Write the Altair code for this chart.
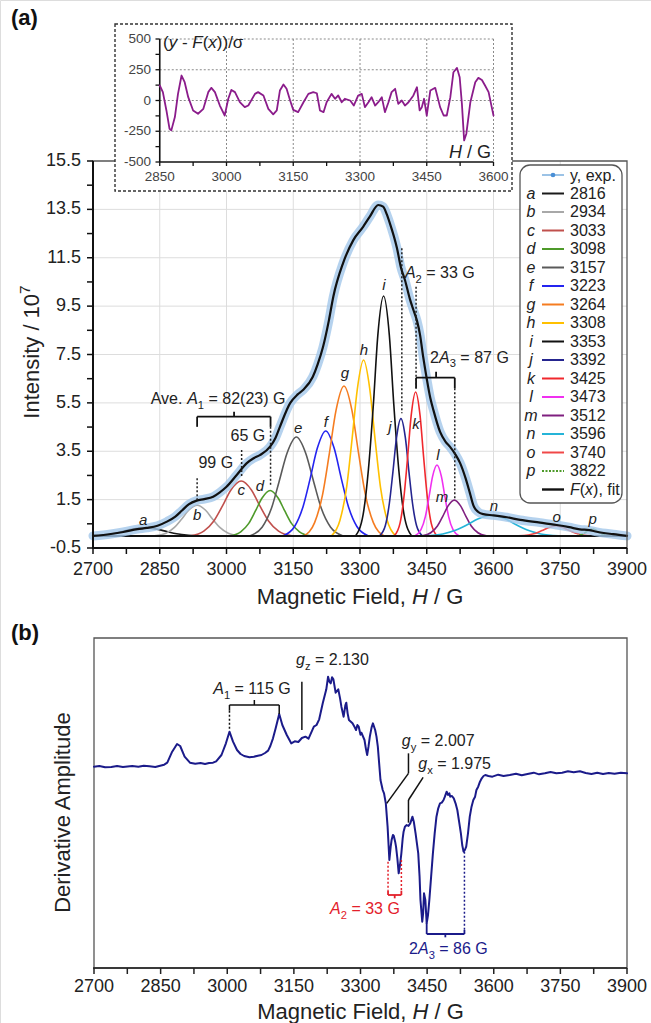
import altair as alt
import pandas as pd

FONT = "Liberation Sans"

# ---------------- data ----------------
# (a) experimental spectrum / fit envelope F(x)
fit_H = [2700, 2740, 2768, 2800, 2821, 2845, 2866, 2885, 2900, 2915, 2933, 2950, 2970, 2985,
         3000, 3023, 3045, 3060, 3075, 3098, 3110, 3120, 3143, 3160, 3172, 3194, 3205, 3217,
         3230, 3240, 3262, 3285, 3307, 3322, 3341, 3352, 3360, 3367, 3383, 3392, 3401, 3412,
         3420, 3428, 3435, 3442, 3450, 3458, 3465, 3480, 3492, 3502, 3515, 3525, 3537, 3547,
         3555, 3565, 3577, 3600, 3630, 3660, 3705, 3742, 3770, 3794, 3815, 3832, 3869, 3900]
fit_v = [0.0, 0.08, 0.16, 0.28, 0.33, 0.42, 0.59, 0.8, 1.05, 1.3, 1.46, 1.52, 1.62, 1.8,
         2.03, 2.52, 3.0, 3.2, 3.34, 3.69, 4.05, 4.51, 5.49, 5.85, 6.03, 6.58, 7.1, 7.82,
         8.9, 9.89, 11.28, 12.23, 12.78, 13.2, 13.68, 13.61, 13.3, 12.93, 11.9, 11.1, 10.58, 9.8,
         9.34, 8.9, 8.3, 7.4, 6.5, 5.7, 5.2, 4.3, 3.9, 3.69, 3.35, 3.01, 2.4, 1.77,
         1.25, 1.0, 0.9, 0.85, 0.77, 0.66, 0.55, 0.45, 0.36, 0.27, 0.24, 0.17, 0.07, 0.0]

# (a) fitted components
a_H = [2700, 2717, 2744, 2766, 2789, 2816, 2843, 2866, 2888, 2915, 2951]
a_v = [0.01, 0.03, 0.09, 0.18, 0.28, 0.33, 0.28, 0.18, 0.09, 0.03, 0.0]
b_H = [2838, 2864, 2883, 2899, 2915, 2934, 2953, 2969, 2985, 3004, 3030]
b_v = [0.0, 0.11, 0.35, 0.69, 1.06, 1.27, 1.06, 0.69, 0.35, 0.11, 0.0]
c_H = [2919, 2949, 2972, 2991, 3010, 3033, 3056, 3075, 3094, 3117, 3147]
c_v = [0.0, 0.20, 0.63, 1.24, 1.90, 2.27, 1.90, 1.24, 0.63, 0.20, 0.0]
d_H = [3008, 3032, 3050, 3065, 3080, 3098, 3116, 3131, 3146, 3164, 3188]
d_v = [0.0, 0.17, 0.52, 1.03, 1.57, 1.88, 1.57, 1.03, 0.52, 0.17, 0.0]
e_H = [3052, 3080, 3101, 3118, 3136, 3157, 3178, 3196, 3213, 3234, 3262]
e_v = [0.0, 0.36, 1.14, 2.23, 3.42, 4.09, 3.42, 2.23, 1.14, 0.36, 0.0]
f_H = [3127, 3153, 3172, 3188, 3204, 3223, 3242, 3258, 3274, 3293, 3319]
f_v = [0.0, 0.39, 1.21, 2.37, 3.62, 4.34, 3.62, 2.37, 1.21, 0.39, 0.0]
g_H = [3174, 3198, 3216, 3231, 3246, 3264, 3282, 3297, 3312, 3330, 3354]
g_v = [0.0, 0.55, 1.72, 3.39, 5.18, 6.20, 5.18, 3.39, 1.72, 0.55, 0.0]
h_H = [3236, 3255, 3270, 3282, 3294, 3308, 3322, 3334, 3346, 3361, 3380]
h_v = [0.0, 0.65, 2.02, 3.97, 6.07, 7.27, 6.07, 3.97, 2.02, 0.65, 0.0]
i_H = [3290, 3307, 3319, 3330, 3340, 3353, 3366, 3376, 3387, 3399, 3416]
i_v = [0.0, 0.88, 2.76, 5.42, 8.28, 9.92, 8.28, 5.42, 2.76, 0.88, 0.0]
j_H = [3344, 3357, 3366, 3374, 3382, 3392, 3402, 3410, 3418, 3427, 3440]
j_v = [0.0, 0.43, 1.35, 2.65, 4.05, 4.85, 4.05, 2.65, 1.35, 0.43, 0.0]
k_H = [3377, 3390, 3399, 3407, 3415, 3425, 3435, 3443, 3451, 3460, 3473]
k_v = [0.0, 0.53, 1.65, 3.25, 4.97, 5.95, 4.97, 3.25, 1.65, 0.53, 0.0]
l_H = [3423, 3437, 3447, 3455, 3463, 3473, 3483, 3491, 3499, 3509, 3523]
l_v = [0.0, 0.26, 0.81, 1.60, 2.45, 2.93, 2.45, 1.60, 0.81, 0.26, 0.0]
m_H = [3440, 3459, 3474, 3486, 3498, 3512, 3526, 3538, 3550, 3565, 3584]
m_v = [0.0, 0.13, 0.41, 0.81, 1.24, 1.48, 1.24, 0.81, 0.41, 0.13, 0.0]
n_H = [3446, 3486, 3516, 3541, 3566, 3596, 3626, 3651, 3676, 3706, 3746]
n_v = [0.0, 0.08, 0.24, 0.46, 0.71, 0.85, 0.71, 0.46, 0.24, 0.08, 0.0]
o_H = [3656, 3678, 3695, 3709, 3723, 3740, 3757, 3771, 3785, 3802, 3824]
o_v = [0.0, 0.04, 0.11, 0.22, 0.34, 0.41, 0.34, 0.22, 0.11, 0.04, 0.0]
p_H = [3783, 3793, 3801, 3808, 3814, 3822, 3830, 3836, 3843, 3851, 3861]
p_v = [0.0, 0.03, 0.08, 0.16, 0.24, 0.29, 0.24, 0.16, 0.08, 0.03, 0.0]

comp_letters = list("abcdefghijklmnop")
comp_centers = ["2816", "2934", "3033", "3098", "3157", "3223", "3264", "3308",
                "3353", "3392", "3425", "3473", "3512", "3596", "3740", "3822"]
comp_colors = ["#1a1a1a", "#a8a8a8", "#c0504d", "#4e9a2a", "#5a5a5a", "#2424f0",
               "#f57c20", "#ffc000", "#111111", "#25258f", "#f0282d", "#f030f0",
               "#7f1f7f", "#25b4d8", "#f04848", "#4e9a2a"]
comp_H = [a_H, b_H, c_H, d_H, e_H, f_H, g_H, h_H, i_H, j_H, k_H, l_H, m_H, n_H, o_H, p_H]
comp_v = [a_v, b_v, c_v, d_v, e_v, f_v, g_v, h_v, i_v, j_v, k_v, l_v, m_v, n_v, o_v, p_v]

# inset residual (y - F(x))/sigma
res_H = [2850, 2857, 2865, 2872, 2876, 2884, 2891, 2899, 2906, 2914, 2925, 2936, 2948, 2959,
         2966, 2974, 2985, 2996, 3004, 3011, 3019, 3030, 3041, 3049, 3064, 3071, 3083, 3094,
         3105, 3113, 3120, 3128, 3135, 3143, 3150, 3161, 3173, 3184, 3195, 3203, 3210, 3218,
         3225, 3236, 3244, 3251, 3259, 3266, 3278, 3286, 3296, 3304, 3311, 3319, 3326, 3334,
         3341, 3349, 3356, 3364, 3371, 3379, 3386, 3394, 3401, 3409, 3420, 3428, 3434, 3439,
         3444, 3450, 3458, 3469, 3480, 3488, 3495, 3503, 3510, 3518, 3524, 3529, 3534, 3539,
         3548, 3559, 3566, 3574, 3581, 3589, 3596, 3600]
res_v = [122, 68, -81, -230, -243, -135, 54, 203, 149, 27, -81, -108, -68, 68,
         103, 68, -41, -122, 14, 86, 68, -14, -54, -41, 54, 68, 41, -68,
         -113, -81, 81, 130, 95, 0, -76, -95, -14, 54, 68, 59, -81, -95,
         -14, 54, 14, 41, -14, 14, 0, -41, 41, 54, -54, -14, 27, -41,
         -14, 27, -95, -14, 68, 95, -27, 0, -41, -14, 41, 108, -81, -54,
         14, -122, 81, 103, -54, -122, -122, 27, 230, 265, 189, -27, -324, -270,
         -14, 149, 184, 167, 122, 68, -54, -122]

# (b) derivative spectrum (arbitrary units)
spec_H = [2700, 2712, 2725, 2739, 2752, 2765, 2786, 2800, 2812, 2825, 2838, 2849, 2858, 2865,
          2876, 2887, 2894, 2904, 2916, 2928, 2940, 2950, 2959, 2968, 2975, 2987, 2997, 3005,
          3013, 3022, 3030, 3038, 3050, 3060, 3069, 3077, 3085, 3092, 3097, 3103, 3109, 3117,
          3124, 3134, 3144, 3152, 3160, 3168, 3176, 3183, 3190, 3195, 3201, 3207, 3215, 3223,
          3227, 3230, 3233, 3236, 3239, 3244, 3250, 3254, 3257, 3262, 3266, 3268, 3271, 3274,
          3282, 3287, 3290, 3293, 3296, 3300, 3302, 3309, 3312, 3315, 3318, 3321, 3325, 3328,
          3333, 3336, 3339, 3342, 3345, 3350, 3353, 3357, 3361, 3365, 3368, 3370, 3373, 3375,
          3378, 3380, 3383, 3386, 3389, 3392, 3395, 3397, 3400, 3404, 3408, 3412, 3417, 3420,
          3424, 3427, 3430, 3433, 3435, 3439, 3441, 3443, 3446, 3449, 3452, 3455, 3459, 3463,
          3467, 3471, 3475, 3479, 3483, 3487, 3490, 3494, 3497, 3500, 3502, 3506, 3510, 3514,
          3518, 3522, 3526, 3529, 3532, 3535, 3538, 3542, 3546, 3550, 3554, 3558, 3561, 3565,
          3569, 3573, 3577, 3581, 3588, 3597, 3610, 3622, 3636, 3650, 3663, 3676, 3690, 3702,
          3715, 3728, 3741, 3754, 3767, 3780, 3794, 3807, 3820, 3833, 3846, 3859, 3872, 3886, 3900]
spec_v = [0, 2, -2, -1, 2, -1, 2, 0, 3, 1, -1, 3, 6, 12,
          45, 68, 62, 30, 12, 9, 11, 8, 11, 12, 16, 35, 70, 105,
          75, 50, 38, 32, 28, 30, 33, 35, 41, 48, 62, 85, 115, 158,
          125, 95, 70, 76, 74, 86, 90, 84, 105, 120, 125, 142, 190, 232,
          270, 255, 250, 268, 262, 222, 232, 205, 180, 150, 185, 192, 160, 140,
          130, 118, 110, 125, 120, 96, 102, 80, 55, 35, 60, 90, 118, 130,
          110, 90, 60, 10, -40, -70, -80, -110, -180, -280, -240, -220, -205, -208,
          -225, -240, -275, -320, -295, -260, -215, -195, -180, -175, -178, -170, -150, -165,
          -200, -230, -260, -330, -400, -465, -440, -380, -400, -470, -445, -400, -330, -260,
          -200, -150, -125, -110, -108, -100, -90, -75, -85, -80, -90, -88, -95, -110,
          -130, -165, -200, -235, -255, -250, -240, -200, -150, -120, -100, -90, -70, -60,
          -45, -35, -28, -25, -28, -30, -24, -28, -25, -21, -26, -22, -18, -23,
          -20, -16, -20, -18, -14, -17, -14, -19, -22, -18, -22, -19, -21, -18, -20]

# axis ticks / labels
main_xticks = [2700, 2850, 3000, 3150, 3300, 3450, 3600, 3750, 3900]
main_xminor = [2775, 2925, 3075, 3225, 3375, 3525, 3675, 3825]
main_yticks = [-0.5, 1.5, 3.5, 5.5, 7.5, 9.5, 11.5, 13.5, 15.5]
main_yminor = [0.5, 2.5, 4.5, 6.5, 8.5, 10.5, 12.5, 14.5]
inset_xticks = [2850, 3000, 3150, 3300, 3450, 3600]
inset_xminor = [2925, 3075, 3225, 3375, 3525]
inset_yticks = [-500, -250, 0, 250, 500]
inset_yminor = [-375, -125, 125, 375]

# ---------------- helpers ----------------
CW = {' ': 278, '(': 333, ')': 333, ',': 278, '-': 333, '.': 278, '/': 278, '=': 584, 'σ': 580,
      'A': 667, 'D': 722, 'F': 611, 'G': 778, 'H': 722, 'I': 278, 'M': 833,
      'a': 556, 'b': 556, 'c': 500, 'd': 556, 'e': 556, 'f': 278, 'g': 556, 'h': 556, 'i': 222,
      'j': 222, 'k': 500, 'l': 222, 'm': 833, 'n': 556, 'o': 556, 'p': 556, 'r': 333, 's': 500,
      't': 278, 'u': 556, 'v': 500, 'x': 500, 'y': 500, 'z': 500}

TITLE = 22
TICK = 18
ANN = 16
LEG = 16


def tw(s, size):
    return sum(CW.get(ch, 556) for ch in s) * size / 1000.0


def blank():
    return alt.Chart(alt.Data(values=[{}]))


def rich(pieces, x, y, size, color="#222", align="center", xs=None, ys=None, angle=0, weight="normal"):
    if xs is not None:
        base = alt.Chart(pd.DataFrame({"x": [x], "y": [y]}))
        xe = alt.X("x:Q", scale=xs, axis=None)
        ye = alt.Y("y:Q", scale=ys, axis=None)
    else:
        base = blank()
        xe = alt.value(x)
        ye = alt.value(y)
    sizes = [size * 0.7 if k in ("sub", "sup") else size for _, _, k in pieces]
    widths = [tw(t, fs) for (t, _, _), fs in zip(pieces, sizes)]
    total = sum(widths)
    acc = {"center": -total / 2.0, "left": 0.0, "right": -total}[align]
    out = []
    for (t, it, kind), fs, w in zip(pieces, sizes, widths):
        lead = len(t) - len(t.lstrip(" "))
        txt = t.strip(" ")
        shift = 0.3 * size if kind == "sub" else (-0.4 * size if kind == "sup" else 0.0)
        if txt:
            out.append(base.mark_text(
                text=txt, align="left", baseline="alphabetic",
                dx=acc + tw(" " * lead, fs), dy=0.36 * size + shift,
                fontSize=fs, fontStyle="italic" if it else "normal", fontWeight=weight,
                color=color, font=FONT, angle=angle).encode(x=xe, y=ye))
        acc += w
    return out


def segs(rows, xs, ys, color, width=1.8, dash=None):
    df = pd.DataFrame(rows, columns=["x", "y", "x2", "y2"])
    kw = dict(color=color, strokeWidth=width)
    if dash:
        kw["strokeDash"] = dash
    return alt.Chart(df).mark_rule(**kw).encode(
        x=alt.X("x:Q", scale=xs, axis=None), y=alt.Y("y:Q", scale=ys, axis=None),
        x2="x2:Q", y2="y2:Q")


def prule(x, y, x2, y2, color, width, dash=None):
    kw = dict(color=color, strokeWidth=width)
    if dash:
        kw["strokeDash"] = dash
    return blank().mark_rule(**kw).encode(
        x=alt.value(x), y=alt.value(y), x2=alt.value(x2), y2=alt.value(y2))


def line(H, v, xs, ys, color, width, interp="linear", opacity=1.0, dash=None):
    df = pd.DataFrame({"H": H, "v": v})
    kw = dict(color=color, strokeWidth=width, interpolate=interp, opacity=opacity,
              strokeCap="round", strokeJoin="round")
    if dash:
        kw["strokeDash"] = dash
    return alt.Chart(df).mark_line(**kw).encode(
        x=alt.X("H:Q", scale=xs, axis=None), y=alt.Y("v:Q", scale=ys, axis=None))


def vrules(vals, xs, y0, y1, color, width, dash=None):
    kw = dict(color=color, strokeWidth=width)
    if dash:
        kw["strokeDash"] = dash
    return alt.Chart(pd.DataFrame({"t": vals})).mark_rule(**kw).encode(
        x=alt.X("t:Q", scale=xs, axis=None), y=alt.value(y0), y2=alt.value(y1))


def hrules(vals, ys, x0, x1, color, width, dash=None):
    kw = dict(color=color, strokeWidth=width)
    if dash:
        kw["strokeDash"] = dash
    return alt.Chart(pd.DataFrame({"t": vals})).mark_rule(**kw).encode(
        y=alt.Y("t:Q", scale=ys, axis=None), x=alt.value(x0), x2=alt.value(x1))


def fmt(v):
    return ("%g" % v)


def xlabels(vals, xs, ypx, size, color="#222"):
    df = pd.DataFrame({"t": vals, "lab": [fmt(v) for v in vals]})
    return alt.Chart(df).mark_text(align="center", baseline="middle", fontSize=size,
                                   font=FONT, color=color).encode(
        x=alt.X("t:Q", scale=xs, axis=None), y=alt.value(ypx), text="lab:N")


def ylabels(vals, ys, xpx, size, color="#222"):
    df = pd.DataFrame({"t": vals, "lab": [fmt(v) for v in vals]})
    return alt.Chart(df).mark_text(align="right", baseline="middle", fontSize=size,
                                   font=FONT, color=color).encode(
        y=alt.Y("t:Q", scale=ys, axis=None), x=alt.value(xpx), text="lab:N")


T, F = True, False

# ---------------- scales ----------------
MXS = alt.Scale(domain=[2700, 3900], range=[93, 627], nice=False, zero=False)
MYS = alt.Scale(domain=[-0.5, 15.5], range=[548, 161], nice=False, zero=False)
IXS = alt.Scale(domain=[2850, 3600], range=[159.75, 493.5], nice=False, zero=False)
IYS = alt.Scale(domain=[-500, 500], range=[162, 39], nice=False, zero=False)
BXS = alt.Scale(domain=[2700, 3900], range=[94, 627], nice=False, zero=False)
BYS = alt.Scale(domain=[-604, 386], range=[968, 638], nice=False, zero=False)
LYS = alt.Scale(domain=[0, 17], range=[175, 489.5], nice=False, zero=False)

# ---------------- panel (a) main ----------------
main_layers = []
main_layers.append(vrules(main_xticks[1:-1], MXS, 161, 548, "#dddddd", 1))
main_layers.append(hrules(main_yticks[1:-1], MYS, 93, 627, "#dddddd", 1))
for L, H, v, col in zip(comp_letters, comp_H, comp_v, comp_colors):
    if L == "p":
        main_layers.append(line(H, v, MXS, MYS, col, 1.7, "monotone", dash=[3, 2]))
    else:
        main_layers.append(line(H, v, MXS, MYS, col, 1.6, "monotone"))
main_layers.append(segs([(2700, 0, 3900, 0)], MXS, MYS, "#111", 2))
main_layers.append(line(fit_H, fit_v, MXS, MYS, "#a3c7ea", 9, "monotone", opacity=0.8))
main_layers.append(line(fit_H, fit_v, MXS, MYS, "#111", 2.2, "monotone"))
main_layers.append(blank().mark_rect(fillOpacity=0, stroke="#555", strokeWidth=1.3).encode(
    x=alt.value(93), x2=alt.value(627), y=alt.value(161), y2=alt.value(548)))
main_layers.append(prule(93, 161, 93, 549, "#111", 2))
main_layers.append(prule(92, 548, 627, 548, "#111", 2))
main_layers.append(vrules(main_xticks + main_xminor, MXS, 548, 554, "#111", 1.5))
main_layers.append(hrules(main_yticks + main_yminor, MYS, 87, 93, "#111", 1.5))
main_layers.append(xlabels(main_xticks, MXS, 570, TICK))
main_layers.append(ylabels(main_yticks, MYS, 81, TICK))

# annotations
main_layers.append(segs([(2934, 4.93, 3099, 4.93), (2934, 4.93, 2934, 4.51),
                         (3099, 4.93, 3099, 4.51), (3017, 4.93, 3017, 5.13)], MXS, MYS, "#111", 1.8))
main_layers.append(segs([(3426, 6.54, 3513, 6.54), (3426, 6.54, 3426, 6.1),
                         (3513, 6.54, 3513, 6.1), (3471, 6.54, 3471, 6.79)], MXS, MYS, "#111", 1.8))
main_layers.append(segs([(2934, 2.38, 2934, 1.48), (3034, 3.55, 3034, 2.45), (3099, 4.51, 3099, 2.03),
                         (3394, 11.89, 3394, 5.07), (3426, 10.3, 3426, 6.03), (3513, 6.1, 3513, 1.48)],
                        MXS, MYS, "#222", 1.5, dash=[2, 2]))
main_layers += rich([("Ave. ", F, "n"), ("A", T, "n"), ("1", F, "sub"), (" = 82(23) G", F, "n")],
                    2981, 5.7, ANN, xs=MXS, ys=MYS)
main_layers += rich([("99 G", F, "n")], 2976, 3.06, ANN, xs=MXS, ys=MYS)
main_layers += rich([("65 G", F, "n")], 3048, 4.17, ANN, xs=MXS, ys=MYS)
main_layers += rich([("A", T, "n"), ("2", F, "sub"), (" = 33 G", F, "n")], 3401, 10.9, ANN,
                    align="left", xs=MXS, ys=MYS)
main_layers += rich([("2", F, "n"), ("A", T, "n"), ("3", F, "sub"), (" = 87 G", F, "n")],
                    3546, 7.4, ANN, xs=MXS, ys=MYS)
lab_H = [2813, 2934, 3033, 3075, 3161, 3223, 3266, 3309, 3354, 3367, 3426, 3475, 3484, 3601, 3742, 3823]
lab_v = [0.66, 0.86, 1.9, 2.06, 4.46, 4.7, 6.73, 7.68, 10.37, 4.5, 4.63, 3.34, 1.6, 1.24, 0.78, 0.7]
main_layers.append(alt.Chart(pd.DataFrame({"H": lab_H, "v": lab_v, "t": comp_letters})).mark_text(
    fontSize=15, fontStyle="italic", font=FONT, color="#222", align="center", baseline="middle").encode(
    x=alt.X("H:Q", scale=MXS, axis=None), y=alt.Y("v:Q", scale=MYS, axis=None), text="t:N"))
main_layers += rich([("Magnetic Field, ", F, "n"), ("H", T, "n"), (" / G", F, "n")], 360, 596, TITLE)
main_layers += rich([("Intensity / 10", F, "n"), ("7", F, "sup")], 31, 352, TITLE, angle=270)
main_layers += rich([("(a)", F, "n")], 11, 17, 22, align="left", weight="bold", color="#111")
main = alt.layer(*main_layers)

# ---------------- inset ----------------
inset_layers = []
inset_layers.append(blank().mark_rect(fill="white", stroke="#333", strokeWidth=1.4, strokeDash=[3, 2]).encode(
    x=alt.value(115), x2=alt.value(512), y=alt.value(24), y2=alt.value(191)))
inset_layers.append(hrules([500, 250, 0, -250], IYS, 159.75, 493.5, "#8a8a8a", 1, dash=[2, 2]))
inset_layers.append(vrules(inset_xticks[1:], IXS, 39, 162, "#8a8a8a", 1, dash=[2, 2]))
inset_layers.append(prule(159.75, 39, 159.75, 162, "#111", 1.6))
inset_layers.append(prule(159.75, 162, 493.5, 162, "#111", 1.6))
inset_layers.append(hrules(inset_yticks + inset_yminor, IYS, 155.5, 159.75, "#111", 1.3))
inset_layers.append(vrules(inset_xticks + inset_xminor, IXS, 162, 166, "#111", 1.3))
inset_layers.append(ylabels(inset_yticks, IYS, 151, 13.5, "#444"))
inset_layers.append(xlabels(inset_xticks, IXS, 177, 13.5, "#444"))
inset_layers.append(line(res_H, res_v, IXS, IYS, "#8b1c8b", 1.8))
inset_layers += rich([("(", F, "n"), ("y", T, "n"), (" - ", F, "n"), ("F", T, "n"), ("(", F, "n"),
                      ("x", T, "n"), ("))/σ", F, "n")], 163, 42, 17, align="left")
inset_layers += rich([("H", T, "n"), (" / G", F, "n")], 491, 152, 18, align="right")
inset = alt.layer(*inset_layers)

# ---------------- legend ----------------
leg_layers = []
leg_layers.append(blank().mark_rect(fill="white", stroke="#555", strokeWidth=1.3, cornerRadius=10).encode(
    x=alt.value(520), x2=alt.value(622), y=alt.value(165), y2=alt.value(503)))
leg_df = pd.DataFrame({"row": list(range(1, 17)), "L": comp_letters, "c": comp_centers, "col": comp_colors})
leg_y = alt.Y("row:Q", scale=LYS, axis=None)
leg_layers.append(alt.Chart(leg_df).mark_text(fontSize=LEG, fontStyle="italic", font=FONT, color="#222",
                                              align="center", baseline="middle").encode(
    x=alt.value(531), y=leg_y, text="L:N"))
leg_layers.append(alt.Chart(leg_df[leg_df.L != "p"]).mark_rule(strokeWidth=2).encode(
    x=alt.value(542), x2=alt.value(564), y=leg_y, color=alt.Color("col:N", scale=None)))
leg_layers.append(alt.Chart(leg_df[leg_df.L == "p"]).mark_rule(strokeWidth=2, strokeDash=[2, 1.5]).encode(
    x=alt.value(542), x2=alt.value(564), y=leg_y, color=alt.Color("col:N", scale=None)))
leg_layers.append(alt.Chart(leg_df).mark_text(fontSize=LEG, font=FONT, color="#222",
                                              align="left", baseline="middle").encode(
    x=alt.value(570), y=leg_y, text="c:N"))
leg_layers.append(prule(542, 175, 564, 175, "#9cc3e6", 2))
leg_layers.append(blank().mark_point(filled=True, size=22, color="#4a8fd6", opacity=1).encode(
    x=alt.value(553), y=alt.value(175)))
leg_layers += rich([("y, exp.", F, "n")], 570, 175, LEG, align="left")
leg_layers.append(prule(542, 489.5, 564, 489.5, "#111", 2.4))
leg_layers += rich([("F", T, "n"), ("(", F, "n"), ("x", T, "n"), ("), fit", F, "n")], 570, 489.5, LEG,
                   align="left")
legend = alt.layer(*leg_layers)

# ---------------- panel (b) ----------------
NAVY = "#1b1b8a"
RED = "#e3202a"
b_layers = []
b_layers.append(blank().mark_rect(fillOpacity=0, stroke="#555", strokeWidth=1.3).encode(
    x=alt.value(94), x2=alt.value(627), y=alt.value(638), y2=alt.value(968)))
b_layers.append(prule(93, 968, 627, 968, "#222", 1.7))
b_layers.append(vrules(main_xticks + main_xminor, BXS, 968, 974, "#222", 1.5))
b_layers.append(xlabels(main_xticks, BXS, 987, TICK))
b_layers.append(line(spec_H, spec_v, BXS, BYS, NAVY, 2))
b_layers.append(segs([(3005, 185, 3117, 185), (3005, 185, 3005, 168), (3117, 185, 3117, 158),
                      (3061, 185, 3061, 200), (3168, 255, 3168, 110),
                      (3359, -110, 3408, -20), (3408, -20, 3408, 40),
                      (3408, -168, 3408, -100), (3408, -100, 3441, -32)], BXS, BYS, "#111", 1.5))
b_layers.append(segs([(3005, 168, 3005, 108)], BXS, BYS, "#111", 1.5, dash=[2, 2]))
b_layers.append(segs([(3362, -285, 3362, -372), (3392, -280, 3392, -372)], BXS, BYS, RED, 1.5, dash=[2, 2]))
b_layers.append(segs([(3362, -372, 3362, -385), (3392, -372, 3392, -385), (3362, -385, 3392, -385),
                      (3377, -385, 3377, -395)], BXS, BYS, RED, 1.8))
b_layers.append(segs([(3534, -255, 3534, -490)], BXS, BYS, NAVY, 1.5, dash=[2, 2]))
b_layers.append(segs([(3449, -470, 3449, -502), (3534, -490, 3534, -502), (3449, -502, 3534, -502),
                      (3491, -502, 3491, -512)], BXS, BYS, NAVY, 1.8))
b_layers += rich([("A", T, "n"), ("1", F, "sub"), (" = 115 G", F, "n")], 3057, 235, ANN, xs=BXS, ys=BYS)
b_layers += rich([("g", T, "n"), ("z", F, "sub"), (" = 2.130", F, "n")], 3155, 322, ANN,
                 align="left", xs=BXS, ys=BYS)
b_layers += rich([("g", T, "n"), ("y", F, "sub"), (" = 2.007", F, "n")], 3393, 80, ANN,
                 align="left", xs=BXS, ys=BYS)
b_layers += rich([("g", T, "n"), ("x", F, "sub"), (" = 1.975", F, "n")], 3430, 10, ANN,
                 align="left", xs=BXS, ys=BYS)
b_layers += rich([("A", T, "n"), ("2", F, "sub"), (" = 33 G", F, "n")], 3310, -425, ANN,
                 color=RED, xs=BXS, ys=BYS)
b_layers += rich([("2", F, "n"), ("A", T, "n"), ("3", F, "sub"), (" = 86 G", F, "n")], 3498, -545, ANN,
                 color=NAVY, xs=BXS, ys=BYS)
b_layers += rich([("Magnetic Field, ", F, "n"), ("H", T, "n"), (" / G", F, "n")], 360.5, 1011, TITLE)
b_layers += rich([("Derivative Amplitude", F, "n")], 62, 812, TITLE, angle=270)
b_layers += rich([("(b)", F, "n")], 11, 632, 22, align="left", weight="bold", color="#111")
bpanel = alt.layer(*b_layers)

chart = alt.layer(main, inset, legend, bpanel).resolve_scale(
    x="independent", y="independent"
).properties(
    width=651, height=1023, padding=0, autosize=alt.AutoSizeParams(type="none")
).configure_view(strokeWidth=0).configure(background="white")

chart.save("out.html", embed_options={"renderer": "svg", "actions": False})
